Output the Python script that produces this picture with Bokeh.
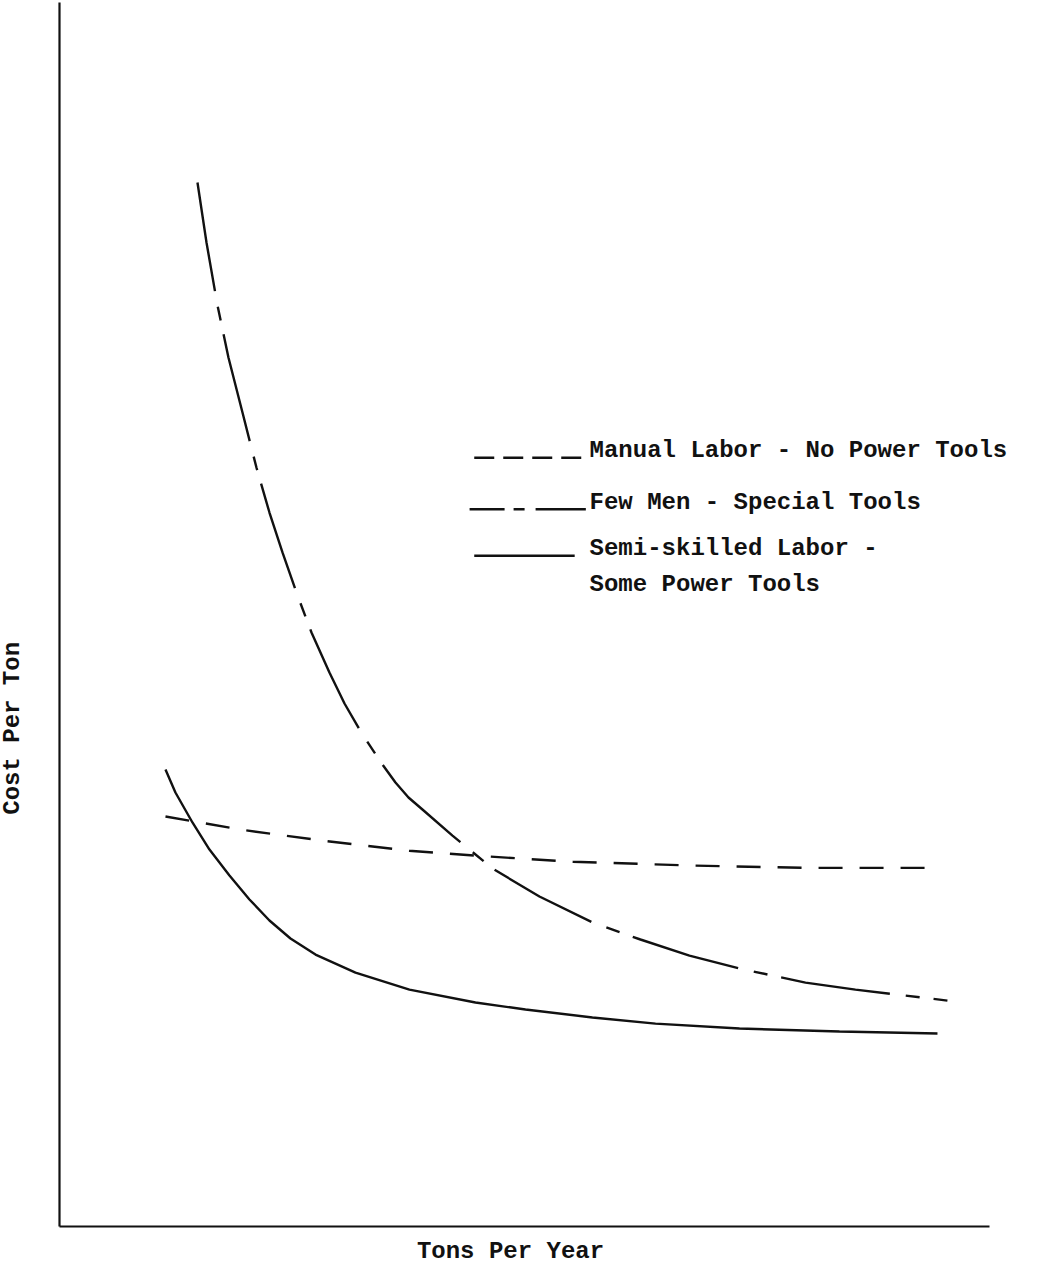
from bokeh.plotting import figure
from bokeh.models import Range1d, Label, FixedTicker
from bokeh.embed import file_html
from bokeh.resources import INLINE

# ---- data (arbitrary units: x 0-100 along Tons Per Year, y 0-100 along Cost Per Ton) ----
x_title = "Tons Per Year"
y_title = "Cost Per Ton"

manual_name = "Manual Labor - No Power Tools"
manual_x = [11.4, 19.7, 28.6, 37.6, 44.7, 55.2, 67.7, 80.2, 93.9]
manual_y = [33.5, 32.4, 31.5, 30.7, 30.3, 29.8, 29.5, 29.3, 29.3]

fewmen_name = "Few Men - Special Tools"
fewmen_x = [14.84, 15.81, 16.99, 18.17, 19.68, 21.18, 22.58, 23.98, 25.48, 27.10,
            29.03, 30.65, 32.58, 34.73, 36.13, 37.53, 39.03, 42.26, 46.56, 51.61,
            57.31, 62.47, 67.74, 73.12, 80.22, 85.59, 90.97, 95.48]
fewmen_y = [85.29, 80.39, 75.25, 71.00, 66.50, 62.01, 58.33, 55.07, 51.80, 48.53,
            45.26, 42.73, 40.20, 37.75, 36.27, 35.05, 34.07, 31.94, 29.25, 26.96,
            24.84, 23.45, 22.14, 21.08, 19.93, 19.36, 18.87, 18.46]

semi_name_lines = ["Semi-skilled Labor -", "Some Power Tools"]
semi_x = [11.40, 12.47, 14.30, 16.13, 18.28, 20.43, 22.58, 24.84, 27.53, 31.83,
          37.63, 44.73, 50.11, 57.31, 64.09, 73.12, 83.87, 94.41]
semi_y = [37.34, 35.46, 33.01, 30.80, 28.68, 26.72, 25.00, 23.53, 22.22, 20.75,
          19.36, 18.30, 17.73, 17.08, 16.58, 16.18, 15.93, 15.77]

# ---- styling ----
INK = "#111111"
FONT = "Liberation Mono"
FSIZE = "24px"
LW = 2.4

p = figure(width=1027, height=1264, output_backend="svg", toolbar_location=None,
           x_range=Range1d(-6.34, 104.09), y_range=Range1d(-3.1, 100.16),
           min_border_left=0, min_border_right=0, min_border_top=0, min_border_bottom=0)
p.outline_line_color = None
p.grid.visible = False
p.background_fill_color = "white"
p.border_fill_color = "white"

for ax in (p.xaxis[0], p.yaxis[0]):
    ax.ticker = FixedTicker(ticks=[])
    ax.fixed_location = 0
    ax.bounds = (0, 100)
    ax.major_tick_line_color = None
    ax.minor_tick_line_color = None
    ax.major_tick_in = 0
    ax.major_tick_out = 0
    ax.minor_tick_in = 0
    ax.minor_tick_out = 0
    ax.major_label_standoff = 0
    ax.major_label_text_font_size = "0px"
    ax.axis_line_color = INK
    ax.axis_line_width = 2.2

# curves
p.line(manual_x, manual_y, line_color=INK, line_width=LW, line_dash="24 17")
p.line(fewmen_x, fewmen_y, line_color=INK, line_width=LW, line_dash="110 16 14 14")
p.line(semi_x, semi_y, line_color=INK, line_width=LW)

# legend (drawn as in the original)
lx0, lx1 = 44.6, 56.6
p.line([lx0, lx1], [62.8, 62.8], line_color=INK, line_width=LW, line_dash="20 9")
p.line([44.1, lx1], [58.6, 58.6], line_color=INK, line_width=LW, line_dash="35 9 11 11 60 1")
p.line([lx0, 55.4], [54.8, 54.8], line_color=INK, line_width=LW)

tx = 57.0
for txt, ty in [(manual_name, 63.4), (fewmen_name, 59.15),
                (semi_name_lines[0], 55.4), (semi_name_lines[1], 52.45)]:
    p.add_layout(Label(x=tx, y=ty, text=txt, text_font=FONT, text_font_size=FSIZE,
                       text_font_style="bold", text_color=INK,
                       text_align="left", text_baseline="middle"))

# axis titles
p.add_layout(Label(x=48.5, y=-2.0, text=x_title, text_font=FONT, text_font_size=FSIZE,
                   text_font_style="bold", text_color=INK,
                   text_align="center", text_baseline="middle"))
p.add_layout(Label(x=-5.05, y=40.7, text=y_title, text_font=FONT, text_font_size=FSIZE,
                   text_font_style="bold", text_color=INK, angle=1.5708,
                   text_align="center", text_baseline="middle"))

open("out.html", "w").write(file_html(p, INLINE))
